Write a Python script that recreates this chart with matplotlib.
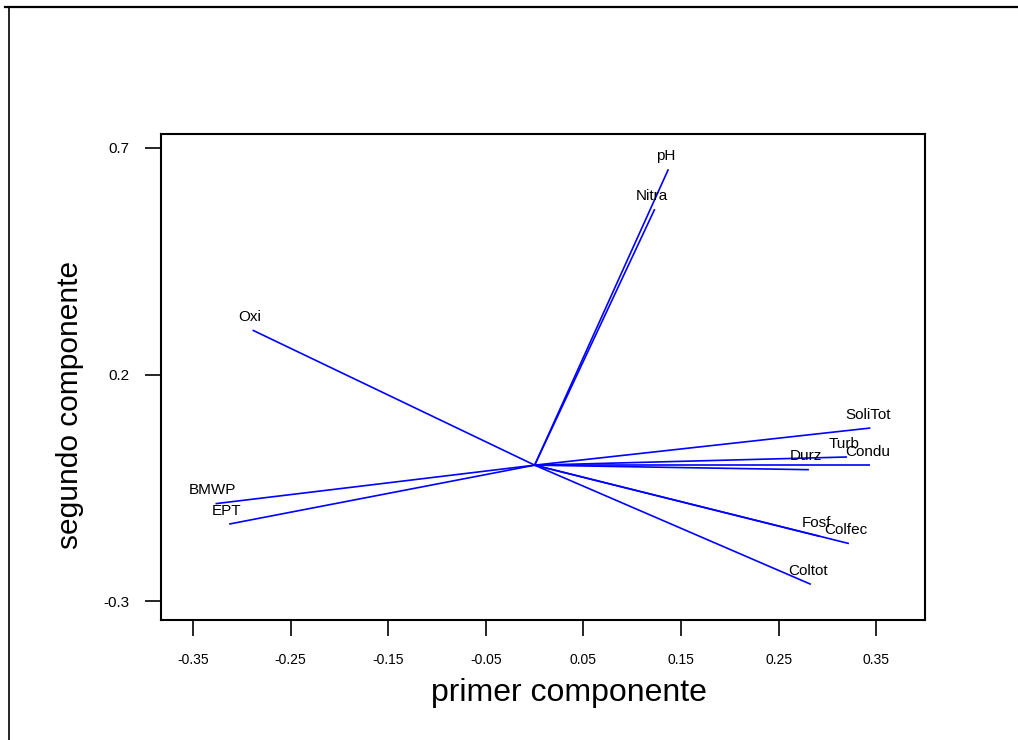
import matplotlib
matplotlib.use('Agg')
import matplotlib.pyplot as plt
from matplotlib.lines import Line2D

plt.rcParams['font.family'] = ['Liberation Sans', 'DejaVu Sans']

# loadings of each variable on the first two components
variables = ['pH', 'Nitra', 'Oxi', 'SoliTot', 'Turb', 'Condu', 'Durz',
             'Fosf', 'Colfec', 'Coltot', 'BMWP', 'EPT']
pc1 = [0.137, 0.123, -0.289, 0.344, 0.320, 0.344, 0.281,
       0.292, 0.322, 0.283, -0.327, -0.313]
pc2 = [0.653, 0.565, 0.298, 0.082, 0.018, 0.000, -0.010,
       -0.157, -0.173, -0.263, -0.085, -0.130]

xticks = [-0.35, -0.25, -0.15, -0.05, 0.05, 0.15, 0.25, 0.35]
xticklabels = ['-0.35', '-0.25', '-0.15', '-0.05', '0.05', '0.15', '0.25', '0.35']
yticks = [-0.3, 0.2, 0.7]
yticklabels = ['-0.3', '0.2', '0.7']

fig = plt.figure(figsize=(10.18, 7.4), dpi=100)
ax = fig.add_axes([0.158, 0.162, 0.9087 - 0.158, 0.819 - 0.162])

for x, y, name in zip(pc1, pc2, variables):
    ax.plot([0, x], [0, y], color='#0000ff', lw=1.2, solid_capstyle='butt')
    ax.annotate(name, (x, y), xytext=(-2, 9.5), textcoords='offset points',
                ha='center', va='center', fontsize=11)

ax.set_xlim(-0.383, 0.400)
ax.set_ylim(-0.342, 0.731)
ax.set_xticks(xticks)
ax.set_xticklabels(xticklabels, fontsize=10)
ax.set_yticks(yticks)
ax.set_yticklabels(yticklabels, fontsize=11)
ax.tick_params(direction='out', length=11.5, width=1.2, pad=11)
ax.tick_params(axis='x', pad=12)

for s in ax.spines.values():
    s.set_linewidth(1.5)

ax.set_xlabel('primer componente', fontsize=23, va='center')
ax.xaxis.set_label_coords(0.534, -0.150)
ax.set_ylabel('segundo componente', fontsize=21.5, va='center')
ax.yaxis.set_label_coords(-0.119, 0.442)

# outer frame (top and left edges only are visible)
fig.add_artist(Line2D([0.005, 1.0], [0.9905, 0.9905], color='black', lw=1.6))
fig.add_artist(Line2D([0.0085, 0.0085], [0.0, 0.9905], color='black', lw=1.2))

plt.savefig('out.png', dpi=100)
plt.close()
